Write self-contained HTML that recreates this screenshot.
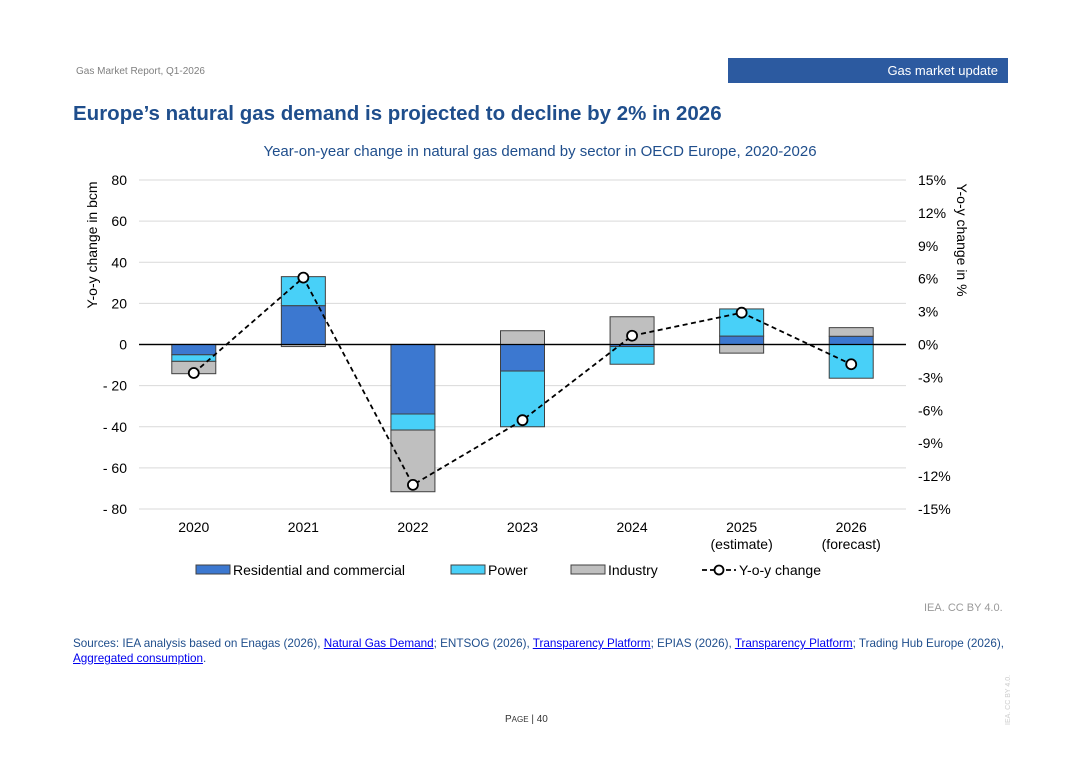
<!DOCTYPE html>
<html><head><meta charset="utf-8"><style>
body{margin:0;width:1080px;height:764px;background:#fff;font-family:"Liberation Sans",sans-serif;position:relative;overflow:hidden}
.a{position:absolute}
a{color:#0000ee;text-decoration:underline}
</style></head><body>
<div class="a" style="left:76px;top:66px;font-size:10px;color:#808080">Gas Market Report, Q1-2026</div>
<div class="a" style="left:728px;top:58px;width:280px;height:25px;background:#2c5aa0;color:#fff;font-size:13px;line-height:25px;text-align:right;box-sizing:border-box;padding-right:10px">Gas market update</div>
<div class="a" style="left:73px;top:102px;font-size:20.5px;font-weight:bold;color:#1f4e8c">Europe’s natural gas demand is projected to decline by 2% in 2026</div>
<div class="a" style="left:0;width:1080px;top:143px;text-align:center;font-size:15px;color:#1f4e8c">Year-on-year change in natural gas demand by sector in OECD Europe, 2020-2026</div>
<svg class="a" style="left:0;top:0" width="1080" height="600" id="chart"></svg>
<div class="a" style="left:924px;top:602px;font-size:11px;color:#999">IEA. CC BY 4.0.</div>
<div class="a" style="left:73px;top:636px;width:940px;font-size:11.7px;color:#1f4e8c;line-height:15px">Sources: IEA analysis based on Enagas (2026), <a>Natural Gas Demand</a>; ENTSOG (2026), <a>Transparency Platform</a>; EPIAS (2026), <a>Transparency Platform</a>; Trading Hub Europe (2026), <a>Aggregated&nbsp;consumption</a>.</div>
<div class="a" style="left:505px;top:714px;font-size:10px;color:#333">P<span style="font-size:8px">AGE</span> | 40</div>
<div class="a" style="left:1005px;top:725px;font-size:7px;color:#ccc;transform:rotate(-90deg);transform-origin:left top">IEA. CC BY 4.0.</div>
<script>
const categories=["2020","2021","2022","2023","2024","2025","2026"];
const catLabel2=["","","","","","(estimate)","(forecast)"];
const residential=[-5,18.9,-33.8,-12.9,-1,4.1,4];
const power=[-3.2,14.1,-7.8,-27.1,-8.6,13.2,-16.4];
const industry=[-6,-1,-30,6.7,13.5,-4.2,4.2];
const yoy=[-2.6,6.1,-12.8,-6.9,0.8,2.9,-1.8];
const leftTicks=[80,60,40,20,0,-20,-40,-60,-80];
const rightTicks=[15,12,9,6,3,0,-3,-6,-9,-12,-15];
const svg=document.getElementById('chart');const NS='http://www.w3.org/2000/svg';
function el(t,a,p){const e=document.createElementNS(NS,t);for(const k in a)e.setAttribute(k,a[k]);(p||svg).appendChild(e);return e;}
const X0=139,X1=906,Y0=180,Y1=509;
const yL=v=>Y0+(80-v)/160*(Y1-Y0);
const yR=v=>Y0+(15-v)/30*(Y1-Y0);
const step=(X1-X0)/categories.length;
const xC=i=>X0+step*(i+0.5);
leftTicks.forEach(t=>{
 const g=el('line',{x1:X0,x2:X1,y1:yL(t),y2:yL(t),stroke:t===0?'#000':'#d9d9d9','stroke-width':t===0?1.3:1});
 
 const tx=el('text',{x:127,y:yL(t)+5,'text-anchor':'end','font-size':14,fill:'#000'});
 tx.textContent=t<0?'- '+(-t):String(t);
 
});
rightTicks.forEach(t=>{
 const tx=el('text',{x:918,y:yR(t)+5,'font-size':14,fill:'#000'});tx.textContent=t+'%';
 
});
let yt=el('text',{transform:'translate(97,245) rotate(-90)','text-anchor':'middle','font-size':14});yt.textContent='Y-o-y change in bcm';

yt=el('text',{transform:'translate(957,240) rotate(90)','text-anchor':'middle','font-size':14});yt.textContent='Y-o-y change in %';

const series=[[residential,'#3c78d0','bar-residential'],[power,'#48d0f8','bar-power'],[industry,'#bfbfbf','bar-industry']];
const bw=44;
categories.forEach((c,i)=>{
 let pos=0,neg=0;
 series.forEach(([arr,col,nm])=>{
  const v=arr[i];let a,b;
  if(v>=0){a=pos;b=pos+v;pos=b;}else{a=neg;b=neg+v;neg=b;}
  const r=el('rect',{x:xC(i)-bw/2,y:Math.min(yL(a),yL(b)),width:bw,height:Math.abs(yL(a)-yL(b)),fill:col,stroke:'#404040','stroke-width':1});
  
 });
 const t=el('text',{x:xC(i),y:532,'text-anchor':'middle','font-size':14});t.textContent=c;
 
 if(catLabel2[i]){const t2=el('text',{x:xC(i),y:549,'text-anchor':'middle','font-size':14});t2.textContent=catLabel2[i];
 }
});
el('line',{x1:X0,x2:X1,y1:yL(0),y2:yL(0),stroke:'#000','stroke-width':1.3});
const ln=el('polyline',{points:yoy.map((v,i)=>xC(i)+','+yR(v)).join(' '),fill:'none',stroke:'#000','stroke-width':1.8,'stroke-dasharray':'5,3.5'});

yoy.forEach((v,i)=>{const c=el('circle',{cx:xC(i),cy:yR(v),r:5,fill:'#fff',stroke:'#000','stroke-width':1.8});
 });
const leg=[['Residential and commercial','#3c78d0',196],['Power','#48d0f8',451],['Industry','#bfbfbf',571]];
leg.forEach(([n,c,x])=>{
 const g=el('g',{});
 el('rect',{x:x,y:565,width:34,height:9,fill:c,stroke:'#404040'},g);
 const t=el('text',{x:x+37,y:575,'font-size':14},g);t.textContent=n;
});
const g=el('g',{});
el('line',{x1:702,x2:736,y1:570,y2:570,stroke:'#000','stroke-width':1.8,'stroke-dasharray':'5,3'},g);
el('circle',{cx:719,cy:570,r:4.5,fill:'#fff',stroke:'#000','stroke-width':1.8},g);
const t=el('text',{x:739,y:575,'font-size':14},g);t.textContent='Y-o-y change';
</script>
</body></html>
